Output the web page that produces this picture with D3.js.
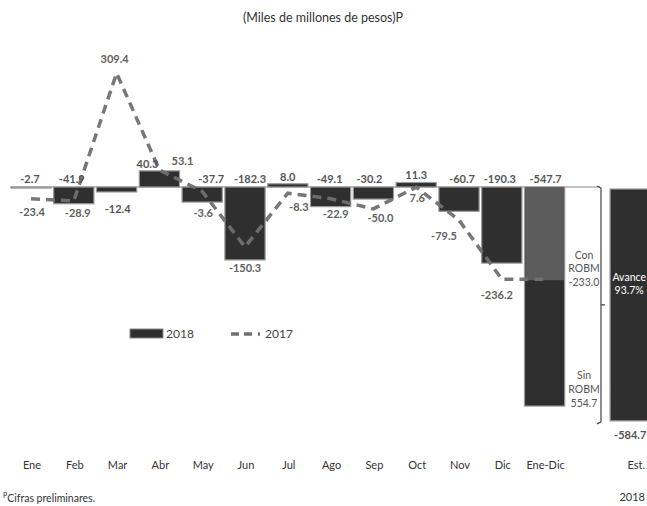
<!DOCTYPE html>
<html>
<head>
<meta charset="utf-8">
<script src="https://cdn.jsdelivr.net/npm/d3@7"></script>
<style>
  body { margin: 0; background: #fff; }
  svg { display: block; font-family: Lato, "Open Sans", sans-serif; }
</style>
</head>
<body>
<div id="chart"></div>
<script>
// categorías (el hueco "" separa Ene-Dic de la estimación)
const categories = ["Ene", "Feb", "Mar", "Abr", "May", "Jun", "Jul", "Ago", "Sep", "Oct", "Nov", "Dic", "Ene-Dic", "", "Est"];
const months = categories.slice(0, 13);

// valores 2018 (barras)
const values2018 = [-2.7, -41.9, -12.4, 40.3, -37.7, -182.3, 8.0, -49.1, -30.2, 11.3, -60.7, -190.3, -547.7];
// valores 2017 (línea punteada)
const values2017 = [-23.4, -28.9, 309.4, 53.1, -3.6, -150.3, -8.3, -22.9, -50.0, 7.6, -79.5, -236.2, -236.2];
const labels2017 = ["-23.4", "-28.9", "309.4", "53.1", "-3.6", "-150.3", "-8.3", "-22.9", "-50.0", "7.6", "-79.5", "-236.2", ""];

// Ene-Dic dividido: con ROBM / total
const conROBM = -233.0;
const sinROBMLabel = "554.7";
const estimado2018 = -584.7;
const avance = "93.7%";

// ajustes de posición de etiquetas (solo estilo)
const dx18 = [-1, -2, 1, -12, 9, 5, 0, -1, -4, 0, 3, -2, 1];
const off17 = [[1, 17], [4, 16], [-2, -10], [23, -5], [1, 26], [0, 25], [11, 18], [5, 19], [7, 13], [1, 15], [-15, 20], [-5, 20], [0, 0]];

const width = 647, height = 506;

const svg = d3.select("#chart").append("svg")
  .attr("width", width)
  .attr("height", height);

const x = d3.scaleBand()
  .domain(categories)
  .range([9.6, 651.6])
  .paddingInner(0.06)
  .paddingOuter(0.03);

// eje principal (barras) y secundario (línea 2017)
const y = d3.scaleLinear().domain([-600, 330]).range([427, 55]);
const y2 = d3.scaleLinear().domain([-600, 330]).range([416.8, 65.3]);

const cx = d => x(d) + x.bandwidth() / 2;

// título
svg.append("text")
  .attr("x", 323).attr("y", 22)
  .attr("text-anchor", "middle")
  .attr("font-size", 12.5)
  .attr("fill", "#333")
  .text("(Miles de millones de pesos)P");

// línea cero
svg.append("line")
  .attr("x1", x("Ene")).attr("x2", 600)
  .attr("y1", y(0)).attr("y2", y(0))
  .attr("stroke", "#c4c4c4")
  .attr("stroke-width", 2);

// barras 2018
svg.append("g")
  .selectAll("rect")
  .data(months.slice(0, 12))
  .join("rect")
  .attr("x", d => x(d))
  .attr("width", x.bandwidth())
  .attr("y", (d, i) => y(Math.max(0, values2018[i])))
  .attr("height", (d, i) => Math.abs(y(values2018[i]) - y(0)))
  .attr("fill", (d, i) => Math.abs(values2018[i]) < 5 ? "#bbb" : "#2f2f2f")
  .attr("stroke", "#9a9a9a")
  .attr("stroke-width", 1.2);

// Ene-Dic: parte con ROBM (más clara) y resto
svg.append("rect")
  .attr("x", x("Ene-Dic")).attr("width", x.bandwidth())
  .attr("y", y(0)).attr("height", y(values2018[12]) - y(0))
  .attr("fill", "#2f2f2f").attr("stroke", "#9a9a9a").attr("stroke-width", 1.2);
svg.append("rect")
  .attr("x", x("Ene-Dic") + 0.6).attr("width", x.bandwidth() - 1.2)
  .attr("y", y(0)).attr("height", y(conROBM) - y(0))
  .attr("fill", "#5c5c5c");

// estimación 2018
svg.append("rect")
  .attr("x", x("Est")).attr("width", x.bandwidth())
  .attr("y", y(0) + 2).attr("height", y(estimado2018) - y(0) - 2)
  .attr("fill", "#2f2f2f").attr("stroke", "#9a9a9a").attr("stroke-width", 1.2);

// línea 2017
const line = d3.line()
  .x((d, i) => cx(months[i]))
  .y(d => y2(d));

svg.append("path")
  .datum(values2017)
  .attr("d", line)
  .attr("fill", "none")
  .attr("stroke", "#707070")
  .attr("stroke-width", 3.5)
  .attr("stroke-dasharray", "9,6")
  .attr("opacity", 0.95);

// etiquetas 2018
svg.append("g")
  .attr("font-size", 11)
  .attr("font-weight", "bold")
  .attr("fill", "#555")
  .attr("text-anchor", "middle")
  .selectAll("text")
  .data(months)
  .join("text")
  .attr("x", (d, i) => cx(d) + dx18[i])
  .attr("y", (d, i) => {
    const v = values2018[i];
    if (d === "Mar") return y(v) + 21;
    return v >= 0 ? y(v) - 3 : y(0) - 4;
  })
  .text((d, i) => values2018[i].toFixed(1));

// etiquetas 2017
svg.append("g")
  .attr("font-size", 11)
  .attr("font-weight", "bold")
  .attr("fill", "#606060")
  .attr("text-anchor", "middle")
  .selectAll("text")
  .data(months)
  .join("text")
  .attr("x", (d, i) => cx(d) + off17[i][0])
  .attr("y", (d, i) => y2(values2017[i]) + off17[i][1])
  .text((d, i) => labels2017[i]);

// anotaciones ROBM
const note = svg.append("g")
  .attr("font-size", 10.5)
  .attr("fill", "#555")
  .attr("text-anchor", "middle");
[["Con", 259], ["ROBM", 272], [String(conROBM.toFixed(1)), 286],
 ["Sin", 379], ["ROBM", 393], [sinROBMLabel, 407]].forEach(([t, ty]) => {
  note.append("text").attr("x", 584).attr("y", ty).text(t);
});

// llave
const bx = 601, bTop = y(0) - 1, bBot = y(estimado2018) + 3, bMid = (bTop + bBot) / 2;
svg.append("path")
  .attr("d", `M${bx - 4},${bTop} L${bx},${bTop + 2} L${bx},${bBot - 2} L${bx - 4},${bBot} M${bx},${bMid} L${bx + 4},${bMid}`)
  .attr("fill", "none")
  .attr("stroke", "#444")
  .attr("stroke-width", 1.2);

// avance
svg.append("g")
  .attr("font-size", 10.5)
  .attr("fill", "#fff")
  .attr("text-anchor", "middle")
  .selectAll("text")
  .data(["Avance", avance])
  .join("text")
  .attr("x", cx("Est") - 1)
  .attr("y", (d, i) => 281 + i * 13)
  .text(d => d);

svg.append("text")
  .attr("x", cx("Est")).attr("y", y(estimado2018) + 18)
  .attr("font-size", 11).attr("font-weight", "bold")
  .attr("fill", "#555").attr("text-anchor", "middle")
  .text(estimado2018.toFixed(1));

// leyenda
svg.append("rect")
  .attr("x", 130).attr("y", 329).attr("width", 33).attr("height", 9)
  .attr("fill", "#2f2f2f").attr("stroke", "#8a8a8a");
svg.append("text")
  .attr("x", 166).attr("y", 338).attr("font-size", 12).attr("fill", "#444")
  .text("2018");
svg.append("line")
  .attr("x1", 231).attr("x2", 262).attr("y1", 334).attr("y2", 334)
  .attr("stroke", "#707070").attr("stroke-width", 3.5)
  .attr("stroke-dasharray", "8,5,8,6,2");
svg.append("text")
  .attr("x", 265).attr("y", 338).attr("font-size", 12).attr("fill", "#444")
  .text("2017");

// eje x
svg.append("g")
  .attr("font-size", 11)
  .attr("fill", "#333")
  .attr("text-anchor", "middle")
  .selectAll("text")
  .data(months)
  .join("text")
  .attr("x", d => cx(d) + 1)
  .attr("y", 469)
  .text(d => d);

svg.append("text")
  .attr("x", 645).attr("y", 469).attr("font-size", 11).attr("fill", "#333")
  .attr("text-anchor", "end").text("Est.");
svg.append("text")
  .attr("x", 645).attr("y", 501).attr("font-size", 11).attr("fill", "#333")
  .attr("text-anchor", "end").text("2018");

// nota
const foot = svg.append("text")
  .attr("x", 3).attr("y", 502)
  .attr("font-size", 10.5).attr("fill", "#333");
foot.append("tspan").attr("font-size", 7).attr("dy", -4).text("P");
foot.append("tspan").attr("dy", 4).text("Cifras preliminares.");
</script>
</body>
</html>
